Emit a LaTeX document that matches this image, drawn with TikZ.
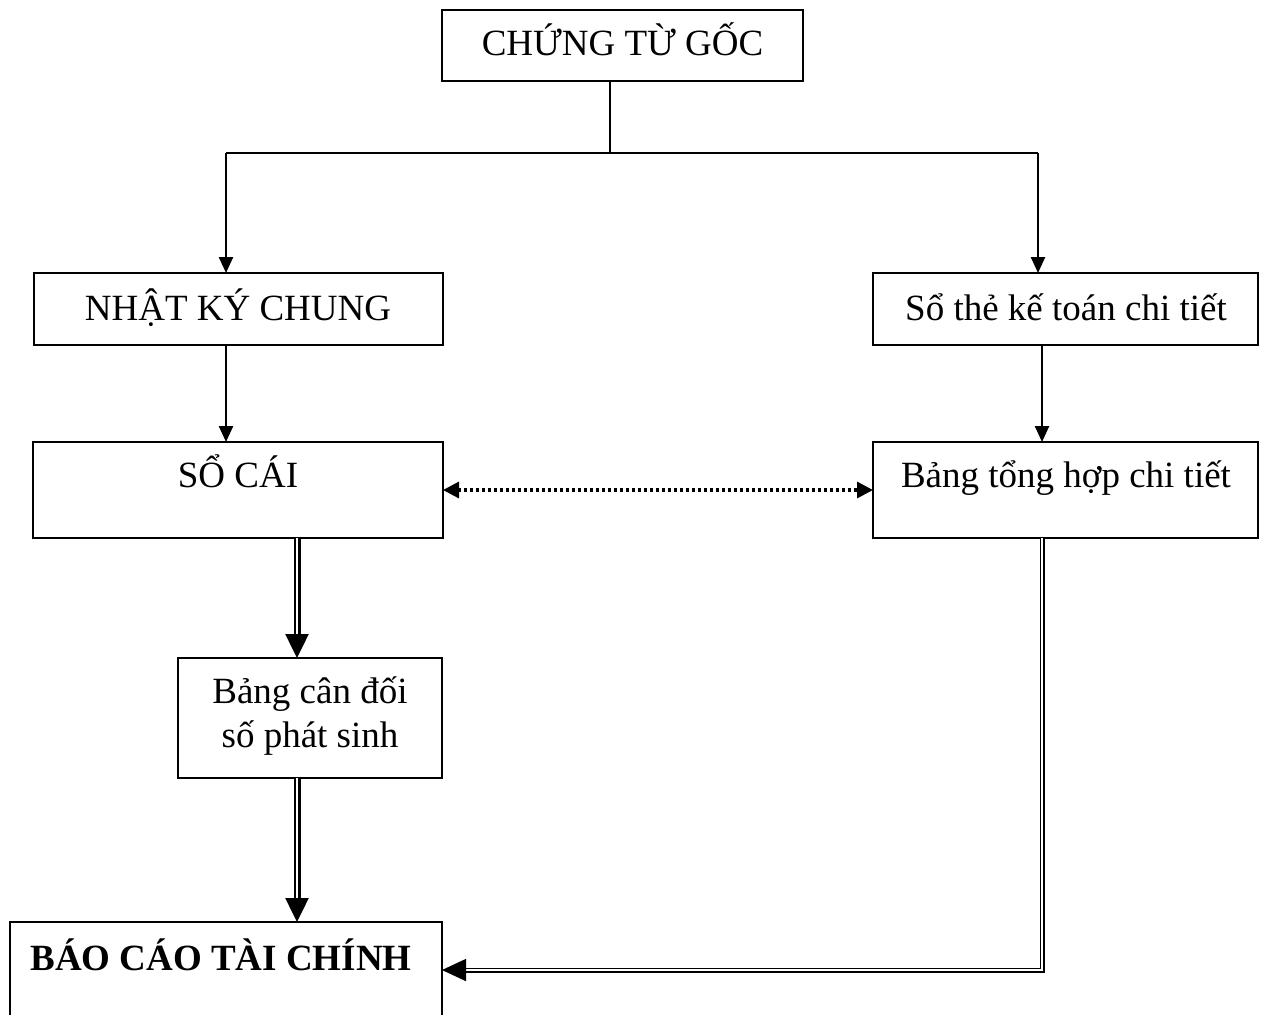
\documentclass[tikz,border=0pt]{standalone}
\usepackage{fontspec}
\setmainfont{Liberation Serif}
\usetikzlibrary{arrows.meta}
\begin{document}
\begin{tikzpicture}[x=0.5pt,y=-0.5pt,
  box/.style={draw, line width=1.3pt, inner sep=0pt, outer sep=0pt},
  txt/.style={anchor=base, inner sep=0pt, font=\fontsize{18.5}{22}\selectfont},
  conn/.style={line width=1.2pt},
  arr/.style={line width=1.2pt, -{Triangle[length=8pt,width=7pt]}},
  darr/.style={double, line width=1.2pt, double distance=1.1pt, -{Triangle[length=12pt,width=11.5pt]}},
  dline/.style={double, line width=0.8pt, double distance=0.9pt, -{Triangle[length=12pt,width=11pt]}},
  dotarr/.style={line width=1.6pt, dash pattern=on 1.5pt off 1.5pt,
    {Triangle[length=8pt,width=8pt]}-{Triangle[length=8pt,width=8pt]}}]
\useasboundingbox (0,0) rectangle (1267,1014);
\clip (0,0) rectangle (1267,1014);

% boxes
\node[box, minimum width=180.5pt, minimum height=35.5pt] (ctg) at (622.5,45.5) {};
\node[box, minimum width=204.5pt, minimum height=36pt] (nkc) at (238.5,309) {};
\node[box, minimum width=192.5pt, minimum height=36pt] (sothe) at (1065.5,309) {};
\node[box, minimum width=205pt, minimum height=48pt] (sc) at (238,490) {};
\node[box, minimum width=192.5pt, minimum height=48pt] (bth) at (1065.5,490) {};
\node[box, minimum width=132pt, minimum height=60pt] (bcd) at (310,718) {};
\node[box, minimum width=216pt, minimum height=59pt] (bctc) at (226,981) {};

% texts
\node[txt] (tctg) at (622.5,55) {CHỨNG TỪ GỐC};
\node[txt] (tnkc) at (238,320) {NHẬT KÝ CHUNG};
\node[txt] (tsothe) at (1066,320) {Sổ thẻ kế toán chi tiết};
\node[txt] (tsc) at (238,487) {SỔ CÁI};
\node[txt] (tbth) at (1066,487) {Bảng tổng hợp chi tiết};
\node[txt, align=center] (tbcd) at (310,747) {Bảng cân đối\\số phát sinh};
\node[txt, font=\fontsize{18.5}{22}\selectfont\bfseries] (tbctc) at (221,970) {BÁO CÁO TÀI CHÍNH};

% connector points
\coordinate (j) at (610,153);
\coordinate (jl) at (226,153);
\coordinate (jr) at (1038,153);
\coordinate (xr) at (1042,600);
\coordinate (xm) at (297,600);
\coordinate (c1) at (1042,970);

\draw[conn] (ctg.south -| j) -- (j);
\draw[conn] (jl) -- (jr);
\draw[arr] (jl) -- (nkc.north -| jl);
\draw[arr] (jr) -- (sothe.north -| jr);
\draw[arr] (nkc.south -| jl) -- (sc.north -| jl);
\draw[arr] (sothe.south -| xr) -- (bth.north -| xr);
\draw[dotarr] (sc.east) -- (bth.west);
\draw[darr] (sc.south -| xm) -- (bcd.north -| xm);
\draw[darr] (bcd.south -| xm) -- (bctc.north -| xm);
\draw[dline] (bth.south -| c1) -- (c1) -- (c1 -| bctc.east);
\end{tikzpicture}
\end{document}
